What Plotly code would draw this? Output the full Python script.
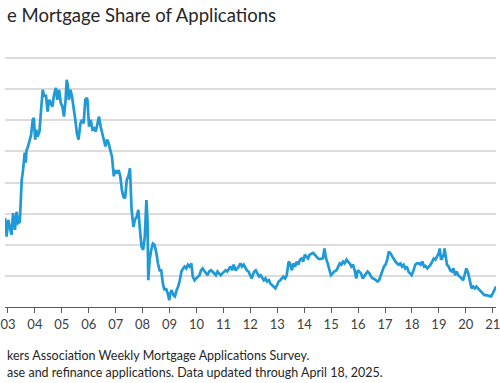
import plotly.graph_objects as go

# decimal year, ARM share (%)
years = [
2002.89,2002.95,2003.01,2003.07,2003.13,2003.19,2003.26,2003.32,2003.38,2003.44,2003.48,2003.51,2003.56,2003.58,2003.62,2003.66,2003.69,2003.74,2003.80,2003.86,2003.92,2003.96,
2004.01,2004.05,2004.10,2004.17,2004.23,2004.29,2004.35,2004.41,2004.47,2004.53,2004.59,2004.65,2004.71,2004.78,2004.83,2004.90,2004.96,
2005.02,2005.08,2005.14,2005.18,2005.22,2005.26,2005.32,2005.38,2005.44,2005.50,2005.56,2005.62,2005.69,2005.75,2005.81,2005.87,2005.93,2005.95,
2006.01,2006.07,2006.14,2006.20,2006.26,2006.32,2006.38,2006.44,2006.50,2006.56,2006.62,2006.68,2006.74,2006.80,2006.86,2006.93,2006.98,
2007.05,2007.11,2007.17,2007.23,2007.29,2007.35,2007.41,2007.47,2007.53,2007.59,2007.66,2007.71,2007.78,2007.84,2007.90,2007.96,
2008.02,2008.08,2008.14,2008.18,2008.21,2008.26,2008.32,2008.38,2008.44,2008.50,2008.57,2008.63,2008.69,2008.75,2008.81,2008.87,2008.93,2008.99,
2009.02,2009.08,2009.14,2009.20,2009.26,2009.32,2009.38,2009.44,2009.50,2009.56,2009.62,2009.68,2009.74,2009.81,2009.86,2009.93,2009.99,
2010.05,2010.11,2010.17,2010.23,2010.29,2010.35,2010.41,2010.47,2010.54,2010.59,2010.66,2010.72,2010.78,2010.84,2010.90,2010.96,
2011.02,2011.08,2011.14,2011.20,2011.26,2011.32,2011.38,2011.45,2011.51,2011.57,2011.63,2011.69,2011.75,2011.81,2011.87,2011.93,2011.99,
2012.05,2012.14,2012.20,2012.26,2012.32,2012.38,2012.44,2012.50,2012.56,2012.62,2012.69,2012.74,2012.81,2012.87,2012.93,2012.99,
2013.05,2013.11,2013.17,2013.23,2013.29,2013.35,2013.42,2013.47,2013.54,2013.60,2013.66,2013.72,2013.78,2013.84,2013.90,2013.96,
2014.02,2014.08,2014.14,2014.20,2014.26,2014.33,2014.39,2014.45,2014.51,2014.57,2014.63,2014.69,2014.75,2014.81,2014.87,2014.93,2014.99,
2015.06,2015.11,2015.20,2015.26,2015.32,2015.38,2015.44,2015.50,2015.57,2015.62,2015.69,2015.75,2015.81,2015.87,2015.93,2015.99,
2016.05,2016.11,2016.17,2016.23,2016.30,2016.35,2016.42,2016.48,2016.54,2016.60,2016.66,2016.72,2016.78,2016.84,2016.90,2016.96,
2017.02,2017.08,2017.14,2017.21,2017.27,2017.33,2017.39,2017.45,2017.51,2017.57,2017.63,2017.69,2017.75,2017.81,2017.87,2017.93,2017.99,
2018.06,2018.12,2018.18,2018.26,2018.32,2018.38,2018.45,2018.50,2018.57,2018.63,2018.69,2018.75,2018.81,2018.87,2018.93,2018.99,
2019.03,2019.08,2019.11,2019.18,2019.21,2019.26,2019.30,2019.36,2019.42,2019.48,2019.54,2019.60,2019.66,2019.72,2019.78,2019.84,2019.90,2019.96,
2020.02,2020.09,2020.15,2020.21,2020.27,2020.33,2020.39,2020.45,2020.51,2020.57,2020.64,2020.69,2020.75,2020.82,2020.87,2020.94,
2021.00,2021.06,2021.12]

arm_share = [
14.3,11.3,14.0,12.9,11.6,15.1,12.4,15.3,13.5,13.7,17.2,20.4,22.0,23.6,24.8,23.2,25.2,25.7,26.9,27.7,30.1,30.4,
26.9,28.5,27.4,28.2,31.7,34.9,33.8,34.1,31.4,33.3,32.8,32.2,34.1,35.2,33.3,34.9,32.8,
32.2,30.6,33.3,36.5,35.7,33.3,34.9,33.8,32.2,30.1,27.9,26.9,29.5,30.1,29.5,33.3,33.6,33.3,
29.0,30.1,28.5,28.7,28.2,29.5,30.6,29.0,27.9,26.9,25.8,26.9,26.3,25.2,24.2,21.0,22.0,
21.5,22.0,21.0,18.8,17.7,17.5,20.4,21.0,22.3,15.6,12.9,14.0,14.5,15.6,12.4,9.7,
9.2,11.3,17.2,14.0,4.3,7.6,9.2,10.2,10.0,8.9,7.0,5.9,5.9,3.8,2.7,3.0,2.2,1.1,
2.2,2.7,1.9,1.7,2.7,3.3,4.3,5.7,6.2,6.5,6.2,6.8,6.5,7.0,4.9,4.3,4.6,
4.9,5.1,5.9,6.2,5.8,5.4,5.1,5.7,5.9,5.7,5.4,5.1,5.7,5.4,5.1,5.4,
5.7,5.9,5.7,6.2,6.5,5.9,6.8,5.9,6.2,6.5,7.0,6.5,6.8,6.2,5.9,5.7,5.1,
4.6,5.7,5.9,5.4,4.9,5.1,4.6,4.3,4.6,4.1,4.3,3.8,3.5,3.3,3.0,3.5,
4.1,4.3,4.6,4.9,4.6,5.1,7.3,7.0,5.9,7.0,6.5,7.3,6.8,7.6,7.8,7.3,
8.4,8.1,7.8,8.4,8.6,8.7,8.4,8.1,7.8,7.7,7.8,7.8,9.4,7.8,7.0,6.2,5.1,
5.4,5.7,5.9,6.5,7.0,6.8,7.3,7.0,7.6,7.3,7.0,6.5,6.8,5.9,4.6,5.9,
5.7,5.4,4.6,4.9,5.4,5.7,5.4,4.9,4.6,4.5,4.3,4.1,4.3,5.1,5.7,6.5,
6.8,7.6,8.9,8.6,8.1,7.6,7.3,7.0,6.8,7.0,6.5,6.8,6.2,6.5,5.7,5.4,5.1,
5.9,6.8,7.0,7.0,6.8,7.3,6.5,6.6,6.2,6.5,6.8,7.3,7.8,7.6,8.1,8.6,
9.4,7.6,7.8,8.4,9.4,7.8,6.8,6.5,5.9,5.7,6.2,5.1,5.7,5.1,4.9,4.6,4.3,5.1,
6.2,5.4,4.3,3.0,3.3,3.0,3.3,3.0,2.7,2.5,2.2,1.9,1.9,1.8,1.7,1.7,
2.2,2.7,3.3]

tick_years = list(range(2003, 2022))
tick_labels = ["%02d" % (y % 100) for y in tick_years]
title_text = "e Mortgage Share of Applications"
source_lines = ["kers Association Weekly Mortgage Applications Survey.",
                "ase and refinance applications. Data updated through April 18, 2025."]

FONT = "Lato"
fig = go.Figure()
fig.add_trace(go.Scatter(x=years, y=arm_share, mode="lines",
                         line=dict(color="#1f9ad6", width=2.7), hoverinfo="skip"))

fig.update_layout(
    width=500, height=383,
    margin=dict(l=0, r=0, t=55, b=76),
    paper_bgcolor="white", plot_bgcolor="white",
    showlegend=False,
    font=dict(family=FONT, color="#404040"),
    xaxis=dict(range=[2002.89, 2021.12], tickmode="array", tickvals=tick_years,
               ticktext=tick_labels, showgrid=False, zeroline=False,
               showline=True, linecolor="#595959", linewidth=1.2,
               ticks="outside", ticklen=5, tickcolor="#595959", tickwidth=1.2,
               ticklabeloverflow="allow",
               tickfont=dict(size=13, color="#404040", family=FONT)),
    yaxis=dict(range=[0, 40.5], tickvals=[5, 10, 15, 20, 25, 30, 35, 40],
               showticklabels=False, showgrid=True, gridcolor="#dcdcdc",
               gridwidth=1.6, zeroline=False, showline=False),
)

# paper y: 0 at px 307, 1 at px 55 (252 px)
def py(px):
    return (307 - px) / 252.0

fig.add_annotation(text=title_text, xref="paper", yref="paper", x=0, y=py(15),
                   xanchor="left", yanchor="middle", showarrow=False,
                   font=dict(size=18.5, color="#262626", family=FONT))
for line, ypx in zip(source_lines, [355, 372]):
    fig.add_annotation(text=line, xref="paper", yref="paper", x=0, y=py(ypx),
                       xanchor="left", yanchor="middle", showarrow=False,
                       font=dict(size=12.5, color="#262626", family=FONT))

fig.write_html("out.html", config={"displayModeBar": False},
               post_script="document.body.style.margin='0';document.body.style.overflow='hidden';")
